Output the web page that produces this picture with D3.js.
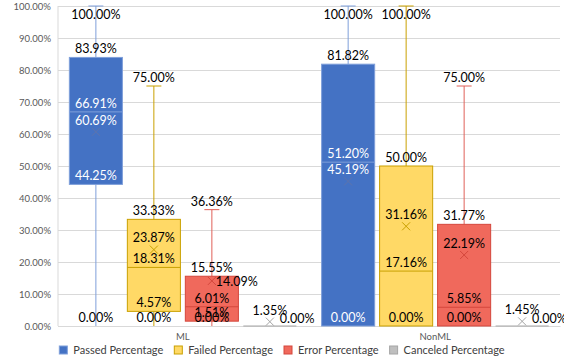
<!DOCTYPE html>
<html>
<head>
<meta charset="utf-8">
<script src="https://cdn.jsdelivr.net/npm/d3@7"></script>
<style>
  body { margin: 0; background: #fff; }
  text { font-family: Lato, 'Open Sans', sans-serif; }
  .tick text { fill: #595959; font-size: 9.5px; }
  .label { font-size: 12.5px; }
  .legend text { font-size: 11px; fill: #404040; }
</style>
</head>
<body>
<svg width="564" height="362"></svg>
<script>
// rows: category, columns: series
const categories = ['ML', 'NonML'];
const seriesNames = ['Passed Percentage', 'Failed Percentage', 'Error Percentage', 'Canceled Percentage'];
const minVals    = [[0, 0, 0, 0], [0, 0, 0, 0]];
const q1Vals     = [[44.25, 4.57, 1.51, 0], [0, 0, 0, 0]];
const medianVals = [[66.91, 18.31, 6.01, 0], [51.20, 17.16, 5.85, 0]];
const q3Vals     = [[83.93, 33.33, 15.55, 0], [81.82, 50.00, 31.77, 0]];
const maxVals    = [[100, 75, 36.36, 0], [100, 100, 75, 0]];
const meanVals   = [[60.69, 23.87, 14.09, 1.35], [45.19, 31.16, 22.19, 1.45]];
const yTicks = [0, 10, 20, 30, 40, 50, 60, 70, 80, 90, 100];

const fills   = ['#4472C4', '#FFD966', '#F0695C', '#BFBFBF'];
const strokes = ['#7F9FDA', '#C9A000', '#D4473C', '#A6A6A6'];
const whisk   = ['#7F9FDA', '#C9A000', '#E06058', '#A6A6A6'];
const marks   = ['#5E74AC', '#C9A000', '#D4473C', '#A6A6A6'];

const svg = d3.select('svg');
const width = +svg.attr('width');
const height = +svg.attr('height');

const margin = { top: 6, right: 4, bottom: 36, left: 58 };
const innerWidth = width - margin.left - margin.right;
const innerHeight = height - margin.top - margin.bottom;

const g = svg.append('g')
  .attr('transform', `translate(${margin.left},${margin.top})`);

const yScale = d3.scaleLinear().domain([0, 100]).range([innerHeight, 0]);

const x0 = d3.scaleBand().domain(categories).range([0, innerWidth])
  .paddingInner(0.1).paddingOuter(0.045);
const x1 = d3.scaleBand().domain(seriesNames).range([0, x0.bandwidth()])
  .paddingInner(0.085);

const fmt = v => v.toFixed(2) + '%';

// grid + y axis
const yAxis = d3.axisLeft(yScale).tickValues(yTicks)
  .tickFormat(d => d.toFixed(2) + '%')
  .tickSize(-innerWidth).tickPadding(7);
const yAxisG = g.append('g').call(yAxis);
yAxisG.select('.domain').remove();
yAxisG.selectAll('.tick line').attr('stroke', '#D9D9D9');
g.append('line')
  .attr('x1', 0).attr('x2', 0).attr('y1', 0).attr('y2', innerHeight)
  .attr('stroke', '#D9D9D9');

// category labels
const xAxis = d3.axisBottom(x0).tickSize(0).tickPadding(7);
const xAxisG = g.append('g').attr('transform', `translate(0,${innerHeight})`).call(xAxis);
xAxisG.select('.domain').attr('stroke', '#D9D9D9');

const rows = [];
categories.forEach((c, ci) => {
  seriesNames.forEach((s, si) => {
    rows.push({
      c, s, si,
      min: minVals[ci][si], q1: q1Vals[ci][si], med: medianVals[ci][si],
      q3: q3Vals[ci][si], max: maxVals[ci][si], mean: meanVals[ci][si]
    });
  });
});

const boxG = g.selectAll('.box').data(rows).enter().append('g')
  .attr('class', 'box')
  .attr('transform', d => `translate(${x0(d.c) + x1(d.s)},0)`);

const bw = x1.bandwidth();
const capW = 15;

// whiskers
boxG.each(function(d) {
  const sel = d3.select(this);
  const cx = bw / 2;
  const col = whisk[d.si];
  if (d.max > d.q3) {
    sel.append('line').attr('x1', cx).attr('x2', cx)
      .attr('y1', yScale(d.q3)).attr('y2', yScale(d.max)).attr('stroke', col);
    sel.append('line').attr('x1', cx - capW / 2).attr('x2', cx + capW / 2)
      .attr('y1', yScale(d.max)).attr('y2', yScale(d.max)).attr('stroke', col);
  }
  if (d.min < d.q1) {
    sel.append('line').attr('x1', cx).attr('x2', cx)
      .attr('y1', yScale(d.q1)).attr('y2', yScale(d.min)).attr('stroke', col);
  }
});

boxG.append('rect')
  .attr('x', 0).attr('width', bw)
  .attr('y', d => yScale(d.q3))
  .attr('height', d => Math.max(0, yScale(d.q1) - yScale(d.q3)))
  .attr('fill', d => fills[d.si])
  .attr('stroke', d => strokes[d.si]);

boxG.append('line')
  .attr('x1', 0).attr('x2', bw)
  .attr('y1', d => yScale(d.med)).attr('y2', d => yScale(d.med))
  .attr('stroke', d => strokes[d.si]);

// mean marker
const xs = 4;
boxG.append('path')
  .attr('d', d => {
    const cx = bw / 2, cy = yScale(d.mean);
    return `M${cx - xs},${cy - xs}L${cx + xs},${cy + xs}M${cx - xs},${cy + xs}L${cx + xs},${cy - xs}`;
  })
  .attr('stroke', d => marks[d.si]).attr('fill', 'none');

// data labels
boxG.each(function(d) {
  const sel = d3.select(this);
  const cx = bw / 2;
  const flat = d.q1 === d.q3;
  const placed = [];
  const inBox = y => y >= yScale(d.q3) && y <= yScale(d.q1) && !flat;
  const put = (v, yc, right, isMean) => {
    const white = d.si === 0 && inBox(yc);
    sel.append('text')
      .attr('class', 'label')
      .attr('x', right ? cx + (isMean ? 4 : 10) : cx)
      .attr('y', yc)
      .attr('dy', '0.35em')
      .attr('text-anchor', right ? 'start' : 'middle')
      .attr('fill', white ? '#fff' : '#000')
      .text(fmt(v));
    placed.push(yc);
  };
  const stats = [d.max, d.q3, d.med, d.q1, d.min];
  const seen = new Set();
  stats.forEach(v => {
    if (seen.has(v)) return;
    seen.add(v);
    let yc = yScale(v) - 8.5;
    if (yc - 6 < 0) yc = yScale(v) + 9;
    if (flat) put(v, yScale(v) - 7.5, true, false);
    else put(v, yc, false, false);
  });
  const my = yScale(d.mean);
  const above = my - 11.5;
  const clash = !flat && placed.some(p => Math.abs(p - above) < 12);
  if (clash) put(d.mean, my + 1, true, true);
  else put(d.mean, above, false, true);
});

// legend
const legend = svg.append('g').attr('class', 'legend');
let lx = 0;
seriesNames.forEach((s, si) => {
  const item = legend.append('g').attr('transform', `translate(${lx},0)`);
  item.append('rect').attr('x', 0).attr('y', -4).attr('width', 8).attr('height', 8)
    .attr('fill', fills[si]).attr('stroke', strokes[si]);
  const t = item.append('text').attr('x', 14).attr('y', 0).attr('dy', '0.35em').text(s);
  lx += 14 + t.node().getComputedTextLength() + 11;
});
lx -= 11;
legend.attr('transform', `translate(${(width - lx) / 2},350)`);
</script>
</body>
</html>
